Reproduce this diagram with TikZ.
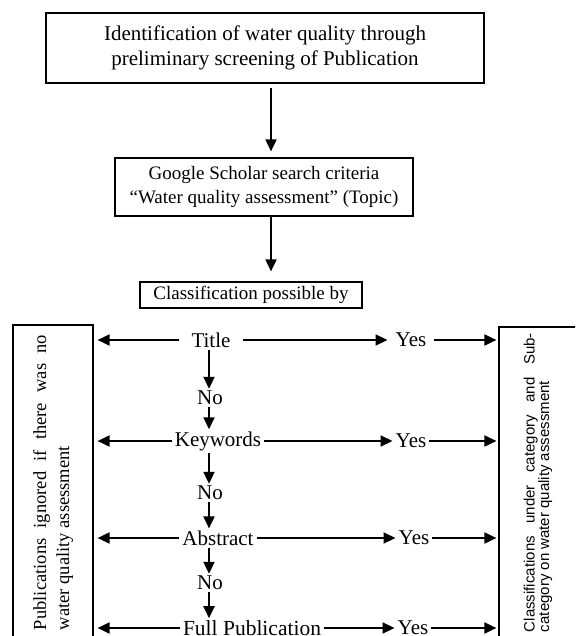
\documentclass[tikz,border=0pt]{standalone}
\usepackage{fontspec}
\setmainfont{Liberation Serif}
\newfontfamily\sidefont{Liberation Sans}
\usetikzlibrary{
    arrows.meta,
    positioning
}

\begin{document}
\begin{tikzpicture}[x=1pt, y=-1pt,
    box/.style={draw, line width=1.2pt, align=center, inner sep=0pt},
    flowtext/.style={font=\fontsize{21}{25}\selectfont, inner xsep=3pt, inner ysep=2pt},
    flow/.style={-{Triangle[length=12pt,width=11pt]}, line width=1.9pt},
    sidebox/.style={draw, line width=1.2pt, rotate=90, align=justify, inner ysep=0pt}]
    \path[use as bounding box, clip] (0,0) rectangle (575,636);
    % top of the chart
    \node[box, line width=1.8pt, minimum width=438pt, minimum height=70pt,
          font=\fontsize{21}{25}\selectfont] (ident) at (265,48)
          {Identification of water quality through\\preliminary screening of Publication};
    \node[box, minimum width=298pt, minimum height=58pt,
          font=\fontsize{19}{24}\selectfont] (scholar) at (264,187)
          {Google Scholar search criteria\\``Water quality assessment'' (Topic)};
    \node[box, minimum width=222pt, minimum height=26pt,
          font=\fontsize{19}{22}\selectfont] (classby) at (251,295) {Classification possible by};
    \coordinate (spine) at (271,0);
    \coordinate (col) at (209,0);
    % side boxes
    \node[sidebox, text width=295pt, inner xsep=10pt, minimum height=80pt,
          font=\fontsize{18.5}{23}\selectfont] (ignored) at (53,482.5)
          {Publications ignored if there was no\linebreak water quality assessment};
    \node[sidebox, text width=299pt, inner xsep=6pt, minimum height=78pt,
          font=\sidefont\fontsize{15}{14.5}\selectfont] (classified) at (538,482.5)
          {Classifications under category and Sub-\linebreak category on water quality assessment};
    % decision column
    \node[flowtext, inner xsep=12pt] (title) at (211,340) {Title};
    \node[flowtext] (no1) at (210,398) {No};
    \node[flowtext] (keywords) at (218,441) {Keywords};
    \node[flowtext] (no2) at (210,493) {No};
    \node[flowtext] (abstract) at (218,538) {Abstract};
    \node[flowtext] (no3) at (210,583) {No};
    \node[flowtext, font=\fontsize{21.5}{25}\selectfont] (full) at (252,628) {Full Publication};
    \node[flowtext, inner xsep=8pt] (yes1) at (411,340) {Yes};
    \node[flowtext] (yes2) at (411,441) {Yes};
    \node[flowtext] (yes3) at (414,538) {Yes};
    \node[flowtext] (yes4) at (413,628) {Yes};
    % connectors
    \draw[flow, shorten <=4pt, shorten >=6pt] (ident.south -| spine) -- (scholar.north -| spine);
    \draw[flow, shorten >=10pt] (scholar.south -| spine) -- (classby.north -| spine);
    \foreach \a/\b in {title/no1, no1/keywords, keywords/no2, no2/abstract, abstract/no3, no3/full}
        \draw[flow] (\a.south -| col) -- (\b.north -| col);
    \foreach \lbl/\yes in {title/yes1, keywords/yes2, abstract/yes3, full/yes4}{
        \draw[flow, shorten >=4pt] (\lbl.west) -- (\lbl.west -| ignored.south);
        \draw[flow] (\lbl.east) -- (\yes.west);
        \draw[flow, shorten >=2pt] (\yes.east) -- (\yes.east -| classified.north);
    }
\end{tikzpicture}
\end{document}
